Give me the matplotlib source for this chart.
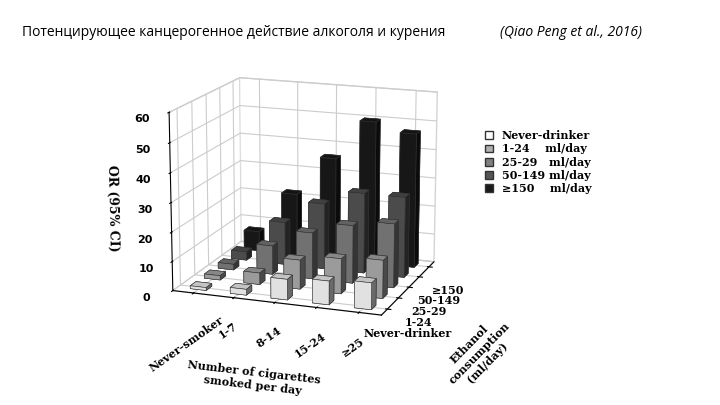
import matplotlib.pyplot as plt
import numpy as np

smoking = ['Never-smoker', '1-7', '8-14', '15-24', '≥25']
drinking = ['Never-drinker', '1-24', '25-29', '50-149', '≥150']
legend_labels = ['Never-drinker', '1-24    ml/day', '25-29   ml/day',
                 '50-149 ml/day', '≥150    ml/day']
# OR values, rows = drinking category, cols = smoking category
or_never = [1.0, 2.0, 7.0, 8.0, 9.0]
or_1_24 = [1.5, 4.0, 10.0, 12.0, 13.0]
or_25_29 = [2.0, 10.0, 16.0, 20.0, 22.0]
or_50_149 = [3.0, 15.0, 23.0, 28.0, 28.0]
or_150 = [7.0, 22.0, 36.0, 50.0, 47.0]
values = [or_never, or_1_24, or_25_29, or_50_149, or_150]
colors = ['#ffffff', '#b0b0b0', '#808080', '#555555', '#1a1a1a']

fig = plt.figure(figsize=(7.2, 4.05), dpi=100)
fig.text(0.03, 0.91, 'Потенцирующее канцерогенное действие алкоголя и курения ',
         fontsize=10, family='Open Sans')
fig.text(0.695, 0.91, '(Qiao Peng et al., 2016)', fontsize=10,
         family='Open Sans', style='italic')

ax = fig.add_axes([0.13, 0.12, 0.58, 0.8], projection='3d')
ax.set_box_aspect((1.2, 1.0, 1.0))
dx, dy = 0.4, 0.4
for j in range(len(drinking) - 1, -1, -1):
    for i in range(len(smoking)):
        ax.bar3d(i, j, 0, dx, dy, values[j][i], color=colors[j],
                 edgecolor='#333333', linewidth=0.4, shade=True)

ax.set_zlim(0, 60)
ax.set_zticks(range(0, 61, 10))
ax.set_xticks(np.arange(len(smoking)) + dx / 2)
ax.set_xticklabels(smoking, fontsize=8, fontweight='bold', family='serif', rotation=35)
ax.set_yticks(np.arange(len(drinking)) + dy / 2)
ax.set_yticklabels(drinking, fontsize=8, fontweight='bold', family='serif')
ax.tick_params(axis='z', labelsize=8)
for t in ax.get_zticklabels():
    t.set_fontweight('bold')
ax.zaxis.set_ticks_position('lower')
ax.zaxis.set_label_position('lower')
ax.set_zlabel('OR (95% CI)', fontsize=9, fontweight='bold', family='serif')
ax.set_xlabel('Number of cigarettes\nsmoked per day', fontsize=8,
              fontweight='bold', family='serif', labelpad=18)
ax.set_ylabel('Ethanol\nconsumption\n(ml/day)', fontsize=8,
              fontweight='bold', family='serif', labelpad=20)
ax.view_init(elev=15, azim=-70)
for a in (ax.xaxis, ax.yaxis, ax.zaxis):
    a.pane.set_facecolor('white')
    a.pane.set_edgecolor('#aaaaaa')
    a._axinfo['grid']['color'] = '#cccccc'

handles = [plt.Rectangle((0, 0), 1, 1, facecolor=c, edgecolor='#333333') for c in colors]
fig.legend(handles, legend_labels, loc='center left', bbox_to_anchor=(0.66, 0.6),
           frameon=False, prop={'family': 'serif', 'weight': 'bold', 'size': 8},
           handlelength=0.7, handleheight=0.7, labelspacing=0.2)

fig.savefig('out.png', dpi=100, facecolor='white')
